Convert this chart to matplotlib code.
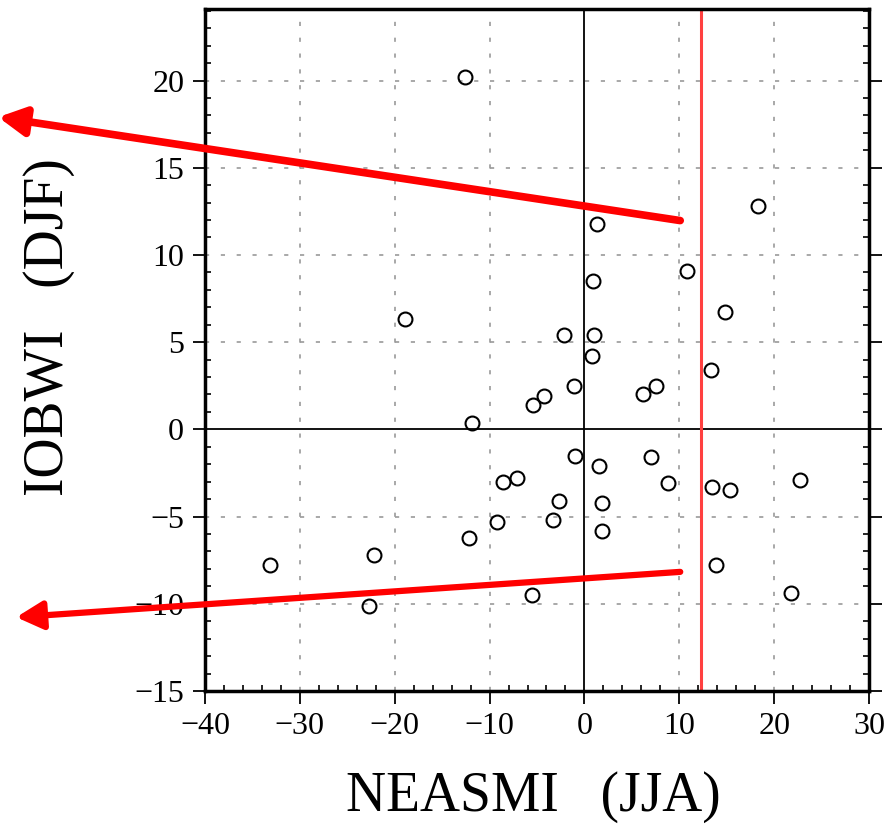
import matplotlib
matplotlib.use("Agg")
import matplotlib.pyplot as plt
from matplotlib.ticker import MultipleLocator
import numpy as np

# NEASMI (JJA) vs IOBWI (DJF)
neasmi = [-12.6, 1.3, 18.3, 10.8, 0.9, -18.9, 14.8, -2.2, 1.0, 0.8,
          13.3, -1.1, 7.5, 6.2, -4.3, -5.4, -11.9, -1.0, 7.0, 1.5,
          -7.1, -8.6, 8.8, 13.4, 15.3, 22.7, -2.7, 1.8, -3.3, -9.2,
          1.8, -12.2, -22.2, -33.1, 13.9, -5.5, -22.7, 21.8]
iobwi = [20.2, 11.8, 12.8, 9.1, 8.5, 6.3, 6.7, 5.4, 5.4, 4.2,
         3.4, 2.5, 2.5, 2.0, 1.9, 1.4, 0.35, -1.5, -1.6, -2.1,
         -2.8, -3.0, -3.1, -3.3, -3.5, -2.9, -4.1, -4.2, -5.2, -5.3,
         -5.8, -6.2, -7.2, -7.8, -7.8, -9.5, -10.1, -9.4]
threshold = 12.3  # red vertical line

# arrows (tail -> head) in data units
arrow_tails = [(10.1, 11.97), (10.1, -8.17)]
arrow_heads = [(-61.8, 17.9), (-59.9, -10.77)]

plt.rcParams['font.family'] = ['Liberation Serif', 'DejaVu Serif']

fig = plt.figure(figsize=(8.95, 8.38), dpi=100)
ax = fig.add_axes([205 / 895, 1 - 691 / 838, 664 / 895, 682 / 838])

ax.set_xlim(-40, 30)
ax.set_ylim(-15, 24.1)

# grid (dotted grey) except zero lines
for gx in [-30, -20, -10, 10, 20]:
    ax.axvline(gx, color='#9a9a9a', lw=1.2, ls=(0, (2.5, 7)), zorder=0)
for gy in [-10, -5, 5, 10, 15, 20]:
    ax.axhline(gy, color='#9a9a9a', lw=1.2, ls=(0, (2.5, 7)), zorder=0)
ax.axhline(0, color='black', lw=1.3, zorder=1)
ax.axvline(0, color='black', lw=1.3, zorder=1)

ax.plot(neasmi, iobwi, 'o', ms=10, mfc='none', mec='black', mew=1.5, zorder=3)

ax.axvline(threshold, color='#ff4040', lw=2.2, zorder=2)

for (tx, ty), (hx, hy), lw in zip(arrow_tails, arrow_heads, [5.5, 4.5]):
    ax.annotate('', xy=(hx, hy), xytext=(tx, ty), annotation_clip=False,
                arrowprops=dict(arrowstyle='-|>,head_length=1.6,head_width=0.85',
                                color='red', lw=lw, shrinkA=0, shrinkB=0),
                zorder=5)

for sp in ax.spines.values():
    sp.set_linewidth(2.5)

ax.xaxis.set_major_locator(MultipleLocator(10))
ax.xaxis.set_minor_locator(MultipleLocator(2))
ax.yaxis.set_major_locator(MultipleLocator(5))
ax.yaxis.set_minor_locator(MultipleLocator(1))
ax.tick_params(which='major', direction='out', length=9, width=1.3,
               labelsize=23, pad=6)
ax.tick_params(which='minor', direction='in', length=4, width=1.2,
               right=True)
ax.tick_params(axis='y', which='major', right=True)

ax.set_xticks(np.arange(-40, 31, 10))
ax.set_xticklabels(['\u221240', '\u221230', '\u221220', '\u221210', '0', '10', '20', '30'])
ax.set_yticks(np.arange(-15, 21, 5))
ax.set_yticklabels(['\u221215', '\u221210', '\u22125', '0', '5', '10', '15', '20'])

ax.set_xlabel('NEASMI   (JJA)', fontsize=40)
ax.xaxis.set_label_coords(0.495, -0.118)
ax.set_ylabel('IOBWI   (DJF)', fontsize=40)
ax.yaxis.set_label_coords(-0.196, 0.533)

fig.savefig('out.png', dpi=100)
